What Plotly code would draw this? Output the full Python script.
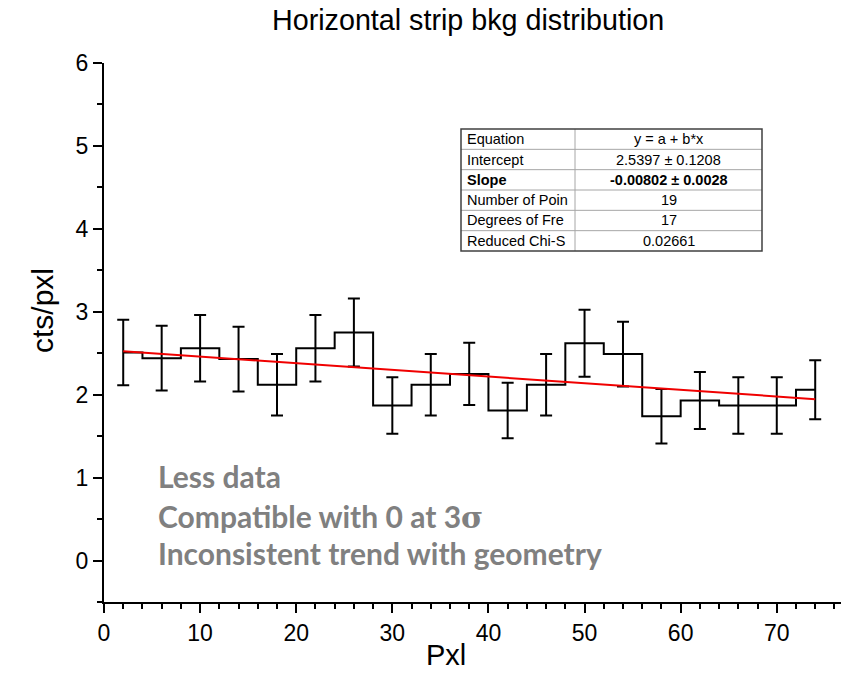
import plotly.graph_objects as go

# Background counts per pixel along the horizontal strip (bin centres, 4 px wide)
pxl = [2, 6, 10, 14, 18, 22, 26, 30, 34, 38, 42, 46, 50, 54, 58, 62, 66, 70, 74]
cts = [2.51, 2.44, 2.56, 2.43, 2.12, 2.56, 2.75, 1.87, 2.12, 2.25,
       1.81, 2.12, 2.62, 2.49, 1.74, 1.93, 1.87, 1.87, 2.06]
err = [0.395, 0.39, 0.40, 0.39, 0.37, 0.40, 0.41, 0.34, 0.37, 0.375,
       0.335, 0.37, 0.405, 0.39, 0.33, 0.345, 0.34, 0.34, 0.355]

# Linear fit results y = a + b*x
fit_intercept = 2.5397
fit_slope = -0.00802

table_labels = ["Equation", "Intercept", "Slope", "Number of Poin",
                "Degrees of Fre", "Reduced Chi-S"]
table_values = ["y = a + b*x", "2.5397 \u00b1 0.1208", "-0.00802 \u00b1 0.0028",
                "19", "17", "0.02661"]

notes = ["Less data", "Compatible with 0 at 3\u03c3",
         "Inconsistent trend with geometry"]

W_FIG, H_FIG = 841, 688
ML, MR, MT, MB = 104, 0, 63, 86
PW, PH = W_FIG - ML - MR, H_FIG - MT - MB
X_MAX = PW / 9.611


def fx(px):
    return (px - ML) / PW


def fy(py):
    return 1 - (py - MT) / PH


FONT = "Liberation Sans, Arial, sans-serif"

fig = go.Figure()

fig.add_trace(go.Scatter(
    x=pxl, y=cts, mode="lines",
    line=dict(color="black", width=2, shape="hvh"),
    error_y=dict(type="data", array=err, visible=True, color="black",
                 thickness=2, width=6),
    showlegend=False, hoverinfo="skip",
))

fit_x = [pxl[0], pxl[-1]]
fit_y = [fit_intercept + fit_slope * v for v in fit_x]
fig.add_trace(go.Scatter(
    x=fit_x, y=fit_y, mode="lines",
    line=dict(color="#f00000", width=2),
    showlegend=False, hoverinfo="skip",
))

shapes = []
annotations = []

# Fit parameter table
t_left, t_right, t_div = 461, 762, 575
t_top, t_bot = 129, 251
row_h = (t_bot - t_top) / len(table_labels)
for i in range(1, len(table_labels)):
    yy = t_top + i * row_h
    shapes.append(dict(type="line", xref="paper", yref="paper",
                       x0=fx(t_left), x1=fx(t_right), y0=fy(yy), y1=fy(yy),
                       line=dict(color="#a6a6a6", width=1)))
shapes.append(dict(type="line", xref="paper", yref="paper",
                   x0=fx(t_div), x1=fx(t_div), y0=fy(t_top), y1=fy(t_bot),
                   line=dict(color="#a6a6a6", width=1)))
shapes.append(dict(type="rect", xref="paper", yref="paper",
                   x0=fx(t_left), x1=fx(t_right), y0=fy(t_top), y1=fy(t_bot),
                   line=dict(color="#404040", width=1.5)))

for i, (lab, val) in enumerate(zip(table_labels, table_values)):
    yc = t_top + (i + 0.5) * row_h
    bold = lab == "Slope"
    lab_t = f"<b>{lab}</b>" if bold else lab
    val_t = f"<b>{val}</b>" if bold else val
    annotations.append(dict(x=fx(t_left + 4), y=fy(yc), xref="paper", yref="paper",
                            text=lab_t, showarrow=False, xanchor="left",
                            yanchor="middle",
                            font=dict(family=FONT, size=14.5, color="black")))
    annotations.append(dict(x=fx((t_div + t_right) / 2), y=fy(yc),
                            xref="paper", yref="paper",
                            text=val_t, showarrow=False, xanchor="center",
                            yanchor="middle",
                            font=dict(family=FONT, size=14.5, color="black")))

# Grey commentary text
for txt, yc in zip(notes, [476, 516, 553]):
    txt = txt.replace("\u03c3", "<span style=\"font-family:'DejaVu Serif'\">\u03c3</span>")
    annotations.append(dict(x=fx(156), y=fy(yc), xref="paper", yref="paper",
                            text=f"<b>{txt}</b>", showarrow=False,
                            xanchor="left", yanchor="middle",
                            font=dict(family="Lato, sans-serif", size=30,
                                      color="#808080")))

# Axis titles and chart title
annotations.append(dict(x=fx(446), y=fy(655), xref="paper", yref="paper",
                        text="Pxl", showarrow=False, xanchor="center",
                        yanchor="middle",
                        font=dict(family=FONT, size=29, color="black")))
annotations.append(dict(x=fx(42), y=fy(310), xref="paper", yref="paper",
                        text="cts/pxl", showarrow=False, xanchor="center",
                        yanchor="middle", textangle=-90,
                        font=dict(family=FONT, size=30, color="black")))
annotations.append(dict(x=fx(468), y=fy(20), xref="paper", yref="paper",
                        text="Horizontal strip bkg distribution", showarrow=False,
                        xanchor="center", yanchor="middle",
                        font=dict(family=FONT, size=28.7, color="black")))

fig.update_layout(
    width=W_FIG, height=H_FIG,
    margin=dict(l=ML, r=MR, t=MT, b=MB),
    paper_bgcolor="white", plot_bgcolor="white",
    shapes=shapes, annotations=annotations,
    xaxis=dict(range=[0, X_MAX], showgrid=False, zeroline=False,
               showline=True, linecolor="black", linewidth=2,
               ticks="outside", ticklen=9, tickwidth=2, tickcolor="black",
               tick0=0, dtick=10,
               minor=dict(ticks="outside", ticklen=5, tickwidth=2,
                          tickcolor="black", dtick=2, showgrid=False),
               tickfont=dict(family=FONT, size=23, color="black")),
    yaxis=dict(range=[-0.5, 6], showgrid=False, zeroline=False,
               showline=True, linecolor="black", linewidth=2,
               ticks="outside", ticklen=9, tickwidth=2, tickcolor="black",
               tick0=0, dtick=1, ticklabelstandoff=0,
               minor=dict(ticks="outside", ticklen=5, tickwidth=2,
                          tickcolor="black", dtick=0.5, showgrid=False),
               tickfont=dict(family=FONT, size=23, color="black")),
)

fig.write_html("out.html")
